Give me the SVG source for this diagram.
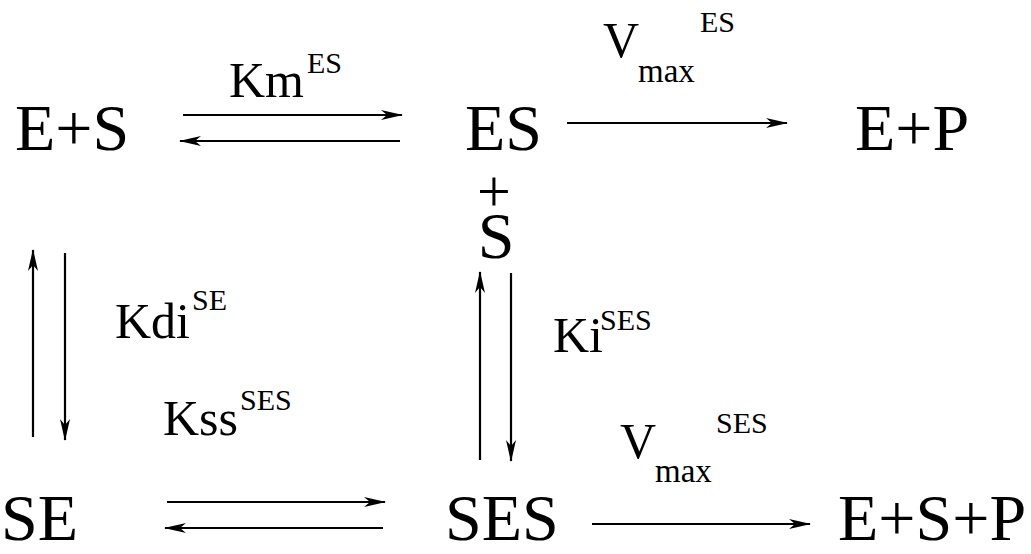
<svg xmlns="http://www.w3.org/2000/svg" width="1031" height="554" viewBox="0 0 1031 554">
<defs>
<marker id="ah" markerUnits="userSpaceOnUse" markerWidth="22" markerHeight="11" refX="21" refY="5.5" orient="auto">
<path d="M0,0.5 L22,5.5 L0,10.5 L6,5.5 z" fill="#000"/>
</marker>
<style>
text{font-family:"Liberation Serif","DejaVu Serif",serif;fill:#000}
.big{font-size:66px}
.lab{font-size:50px}
.sup{font-size:30px}
.sub{font-size:33px}
.c{stroke:#000;stroke-width:2.2;fill:none;marker-end:url(#ah)}
</style>
</defs>
<rect width="1031" height="554" fill="#fff"/>
<g id="connectors">
<line class="c" x1="183" y1="115" x2="402" y2="115"/>
<line class="c" x1="400" y1="141" x2="180" y2="141"/>
<line class="c" x1="567" y1="123" x2="787" y2="123"/>
<line class="c" x1="33" y1="437" x2="33" y2="250"/>
<line class="c" x1="65" y1="253" x2="65" y2="440"/>
<line class="c" x1="480" y1="460" x2="480" y2="272"/>
<line class="c" x1="511" y1="273" x2="511" y2="461"/>
<line class="c" x1="167" y1="502" x2="385" y2="502"/>
<line class="c" x1="383" y1="528" x2="165" y2="528"/>
<line class="c" x1="592" y1="524" x2="810" y2="524"/>
</g>
<g id="node-ES-free"><text class="big" x="15" y="150">E+S</text></g>
<g id="node-ES"><text class="big" x="465" y="150">ES</text></g>
<g id="node-EP"><text class="big" x="855" y="150">E+P</text></g>
<g id="node-plusS"><text x="494" y="211" text-anchor="middle" font-size="60">+</text><text class="big" x="496" y="258" text-anchor="middle">S</text></g>
<g id="node-SE"><text class="big" x="1" y="540">SE</text></g>
<g id="node-SES"><text class="big" x="445" y="540">SES</text></g>
<g id="node-ESP"><text class="big" x="838" y="540">E+S+P</text></g>
<g id="label-Km"><text class="lab" x="229" y="97">Km</text><text class="sup" x="307" y="73">ES</text></g>
<g id="label-Vmax-ES"><text class="lab" x="603" y="57">V</text><text class="sub" x="638" y="82">max</text><text class="sup" x="700" y="32">ES</text></g>
<g id="label-Kdi"><text class="lab" x="115" y="338">Kdi</text><text class="sup" x="192" y="310">SE</text></g>
<g id="label-Kss"><text class="lab" x="163" y="435">Kss</text><text class="sup" x="240" y="410">SES</text></g>
<g id="label-Ki"><text class="lab" x="553" y="352">Ki</text><text class="sup" x="600" y="330">SES</text></g>
<g id="label-Vmax-SES"><text class="lab" x="620" y="458">V</text><text class="sub" x="655" y="482">max</text><text class="sup" x="716" y="433">SES</text></g>
</svg>
